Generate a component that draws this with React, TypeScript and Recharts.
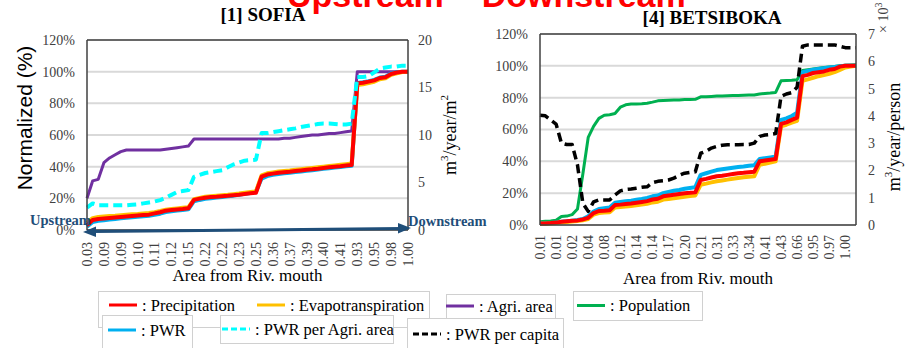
import React from 'react';
import { LineChart, Line, XAxis, YAxis, CartesianGrid, ReferenceLine } from 'recharts';

const SERIF = '"Liberation Serif", "Times New Roman", serif';
const SANS = '"Liberation Sans", Arial, sans-serif';
const NAVY = '#1f4e79';
const FRAME = '#404040';

// x-axis labels (area from river mouth), one for every third point
const sofiaLabels = ['0.03', '0.09', '0.09', '0.10', '0.11', '0.12', '0.15', '0.22', '0.22', '0.23', '0.25', '0.36', '0.37', '0.39', '0.40', '0.41', '0.93', '0.95', '0.98', '1.00'];
const betsiLabels = ['0.01', '0.01', '0.02', '0.04', '0.08', '0.12', '0.14', '0.14', '0.17', '0.20', '0.21', '0.31', '0.33', '0.34', '0.41', '0.43', '0.66', '0.95', '0.97', '1.00'];

// [1] SOFIA - normalized cumulative values (%)
const sofiaPrecip = [3, 6.3, 7, 7.3, 7.6, 7.9, 8.2, 8.5, 8.8, 9.1, 9.4, 9.7, 10.5, 11.2, 12.2, 12.6, 13, 13.3, 13.7, 19, 19.8, 20.4, 20.8, 21, 21.3, 21.6, 22, 22.3, 22.8, 23.2, 23.5, 33.7, 35, 35.6, 36.2, 36.5, 36.8, 37.2, 37.6, 38, 38.3, 38.7, 39.2, 39.6, 40, 40.3, 40.7, 41, 92.6, 93, 93.7, 94.5, 96, 96.5, 98.5, 99.5, 100, 100];
const sofiaEvap = [4.5, 7.5, 8.2, 8.5, 8.8, 9, 9.3, 9.6, 9.9, 10.1, 10.4, 10.7, 11.3, 12, 12.8, 13.2, 13.6, 14, 14.3, 19.5, 20.3, 21, 21.3, 21.6, 21.9, 22.2, 22.6, 23, 23.6, 24, 24.3, 34.5, 35.8, 36.4, 37, 37.3, 37.6, 38, 38.4, 38.8, 39.2, 39.6, 40, 40.4, 40.8, 41.2, 41.6, 42, 91.5, 92, 92.8, 93.6, 95.2, 95.8, 98, 99, 99.8, 100];
const sofiaPwr = [2, 5, 5.8, 6.2, 6.6, 7, 7.4, 7.8, 8.1, 8.4, 8.7, 9, 9.6, 10.3, 11.3, 11.8, 12.3, 12.7, 13.1, 18.2, 19, 19.7, 20.1, 20.5, 20.9, 21.3, 21.7, 22.2, 22.8, 23.4, 24.2, 32.5, 34, 34.8, 35.4, 35.8, 36.2, 36.6, 37, 37.4, 37.8, 38.2, 38.6, 39, 39.4, 39.8, 40.2, 40.5, 92.8, 93.3, 94, 94.8, 96.3, 96.8, 98.8, 99.6, 100, 100];
const sofiaAgri = [20, 31, 32, 42.5, 45.5, 47.5, 49.5, 50.5, 50.5, 50.5, 50.5, 50.5, 50.5, 50.5, 51, 51.5, 52, 52.5, 53, 57.5, 57.5, 57.5, 57.5, 57.5, 57.5, 57.5, 57.5, 57.5, 57.5, 57.5, 57.5, 57.5, 57.5, 57.5, 57.5, 58, 58, 58.5, 59, 59.5, 60, 60, 60.5, 61, 61, 61.5, 62, 62.5, 100, 100, 100, 100, 100, 100, 100, 100, 100, 100];
// PWR per agri. area (m3/year/m2)
const sofiaPwrPerAgri = [2.35, 2.8, 2.6, 2.6, 2.6, 2.6, 2.6, 2.6, 2.65, 2.7, 2.8, 2.9, 3.0, 3.15, 3.4, 3.7, 4.0, 4.1, 4.2, 5.6, 5.8, 6.0, 6.1, 6.2, 6.3, 6.6, 6.9, 7.1, 7.3, 7.35, 7.4, 10.2, 10.2, 10.3, 10.4, 10.5, 10.6, 10.7, 10.85, 10.95, 11.05, 11.15, 11.2, 11.2, 11.15, 11.1, 11.1, 11.2, 16.1, 16.1, 16.2, 16.6, 17.0, 17.1, 17.2, 17.2, 17.3, 17.3];

// [4] BETSIBOKA - normalized cumulative values (%)
const betsiPrecip = [1, 1, 1.2, 1.5, 2, 2.3, 2.6, 2.9, 3.5, 4.5, 7.5, 8.8, 9, 9.3, 12.5, 12.8, 13.2, 13.5, 14, 14.5, 15, 16, 16.5, 18, 18.5, 19, 19.5, 20, 20.2, 20.5, 28.3, 29, 29.8, 30.6, 31, 31.5, 32, 32.5, 32.8, 33.2, 33.5, 40, 40.5, 41, 41.5, 63.5, 64.5, 66, 67.5, 93.5, 94.3, 95.5, 96, 96.5, 97.5, 98, 99.5, 100, 100, 100];
const betsiEvap = [0.8, 0.8, 1, 1.2, 1.6, 1.9, 2.2, 2.5, 3, 3.8, 6.5, 7.5, 7.8, 8, 11, 11.3, 11.6, 12, 12.4, 12.8, 13.3, 14.2, 14.6, 16, 16.4, 16.8, 17.3, 17.8, 18.2, 18.6, 25.3, 26, 26.8, 27.5, 28, 28.5, 29, 29.5, 30, 30.3, 30.6, 37.9, 38.5, 39.2, 40, 62, 63, 64.3, 65.5, 90.5, 91.5, 92.5, 93.5, 94.2, 95, 96, 97.5, 99, 99.5, 100];
const betsiPwr = [1, 1, 1.2, 1.5, 2, 2.3, 2.7, 3.1, 3.8, 5.5, 8.5, 10, 10.5, 11, 14, 14.5, 15, 15.3, 15.8, 16.3, 17, 18, 18.5, 20, 20.8, 21.5, 22, 22.8, 23.3, 23.8, 31.5, 32.5, 33.5, 34.5, 35, 35.5, 36, 36.5, 36.8, 37.2, 37.5, 41.5, 42, 42.5, 43, 66, 67, 68.5, 70.5, 96, 96.8, 97.5, 98, 98.5, 99, 99.3, 99.8, 100, 100, 100];
const betsiPopulation = [2, 2.3, 2.5, 3, 5.3, 5.6, 6.5, 10, 32, 55, 62, 67, 69, 69.3, 70, 74, 75.5, 76, 76, 76.2, 76.5, 77.2, 78, 78.2, 78.4, 78.5, 78.6, 78.8, 78.9, 79, 80.5, 80.6, 80.8, 81, 81.1, 81.2, 81.3, 81.4, 81.5, 81.6, 81.7, 82.3, 82.6, 82.9, 83.3, 90.6, 90.8, 91, 91.3, 97, 97.5, 98, 98.5, 99, 99.3, 99.6, 100, 100.3, 100.5, 100.7];
// PWR per capita (x10^3 m3/year/person)
const betsiPwrPerCapita = [4.02, 4.0, 3.85, 3.7, 3.0, 2.95, 2.95, 2.2, 0.8, 0.5, 0.85, 0.92, 0.92, 0.92, 1.1, 1.25, 1.3, 1.32, 1.35, 1.38, 1.4, 1.55, 1.6, 1.62, 1.65, 1.72, 1.82, 1.9, 1.93, 1.95, 2.63, 2.7, 2.82, 2.88, 2.92, 2.94, 2.94, 2.94, 2.95, 2.95, 3.0, 3.25, 3.3, 3.32, 3.35, 4.71, 4.8, 4.85, 5.05, 6.55, 6.6, 6.6, 6.6, 6.6, 6.6, 6.6, 6.55, 6.5, 6.5, 6.5];

const pctTicks = [0, 20, 40, 60, 80, 100, 120];
const sofiaRightTicks = [0, 5, 10, 15, 20];
const betsiRightTicks = [0, 1, 2, 3, 4, 5, 6, 7];

const sofiaData = sofiaPrecip.map((v, i) => ({
  i,
  precip: v,
  evap: sofiaEvap[i],
  pwr: sofiaPwr[i],
  agri: sofiaAgri[i],
  pwrAgri: sofiaPwrPerAgri[i],
}));

const betsiData = betsiPrecip.map((v, i) => ({
  i,
  precip: v,
  evap: betsiEvap[i],
  pwr: betsiPwr[i],
  pop: betsiPopulation[i],
  perCapita: betsiPwrPerCapita[i],
}));

const tickStyle = { fontFamily: SERIF, fontSize: 14, fill: FRAME };
const frameLine = { stroke: FRAME, strokeWidth: 1.5 };

// rotated category label, reading bottom to top
const RotatedTick = (props: any) => {
  const { x, y, payload, labels, gap } = props;
  const label = labels[Math.round(Number(payload.value) / 3)];
  return (
    <text
      transform={`translate(${x},${y}) rotate(-90)`}
      x={-gap}
      y={0}
      dy="0.35em"
      textAnchor="end"
      fontFamily={SERIF}
      fontSize={14}
      fill={FRAME}
    >
      {label}
    </text>
  );
};

const line = (yAxisId: string, dataKey: string, stroke: string, width: number, dash?: string) => (
  <Line
    yAxisId={yAxisId}
    type="linear"
    dataKey={dataKey}
    stroke={stroke}
    strokeWidth={width}
    strokeDasharray={dash}
    strokeLinejoin="round"
    dot={false}
    activeDot={false}
    isAnimationActive={false}
  />
);

const SofiaChart = () => (
  <LineChart width={500} height={290} data={sofiaData} margin={{ top: 40, right: 30, bottom: 0, left: 0 }}>
    <CartesianGrid yAxisId="l" vertical={false} stroke="#d9d9d9" strokeWidth={2} />
    <XAxis
      dataKey="i"
      interval={2}
      height={60}
      tickSize={0}
      tickMargin={0}
      tickLine={false}
      axisLine={frameLine}
      tick={<RotatedTick labels={sofiaLabels} gap={12} />}
    />
    <YAxis
      yAxisId="l"
      width={87}
      domain={[0, 120]}
      ticks={pctTicks}
      tickFormatter={(v) => `${v}%`}
      tickSize={0}
      tickMargin={12}
      tickLine={false}
      axisLine={frameLine}
      tick={tickStyle}
    />
    <YAxis
      yAxisId="r"
      orientation="right"
      width={62}
      domain={[0, 20]}
      ticks={sofiaRightTicks}
      tickSize={0}
      tickMargin={10}
      tickLine={false}
      axisLine={frameLine}
      tick={tickStyle}
    />
    <ReferenceLine yAxisId="l" y={120} stroke={FRAME} strokeWidth={1.5} />
    {line('l', 'agri', '#7030a0', 3)}
    {line('l', 'pwr', '#00b0f0', 4)}
    {line('l', 'evap', '#ffc000', 4)}
    {line('l', 'precip', '#ff0000', 4)}
    {line('r', 'pwrAgri', '#00ffff', 4, '9 5')}
  </LineChart>
);

const BetsiChart = () => (
  <LineChart width={462} height={290} data={betsiData} margin={{ top: 34, right: 0, bottom: 0, left: 0 }}>
    <CartesianGrid yAxisId="l" vertical={false} stroke="#d9d9d9" strokeWidth={2} />
    <XAxis
      dataKey="i"
      interval={2}
      height={65}
      tickSize={0}
      tickMargin={0}
      tickLine={false}
      axisLine={frameLine}
      tick={<RotatedTick labels={betsiLabels} gap={10} />}
    />
    <YAxis
      yAxisId="l"
      width={90}
      domain={[0, 120]}
      ticks={pctTicks}
      tickFormatter={(v) => `${v}%`}
      tickSize={0}
      tickMargin={12}
      tickLine={false}
      axisLine={frameLine}
      tick={tickStyle}
    />
    <YAxis
      yAxisId="r"
      orientation="right"
      width={56}
      domain={[0, 7]}
      ticks={betsiRightTicks}
      tickSize={0}
      tickMargin={12}
      tickLine={false}
      axisLine={frameLine}
      tick={tickStyle}
    />
    <ReferenceLine yAxisId="l" y={120} stroke={FRAME} strokeWidth={1.5} />
    {line('l', 'pop', '#00b050', 3)}
    {line('l', 'pwr', '#00b0f0', 4)}
    {line('l', 'evap', '#ffc000', 4)}
    {line('l', 'precip', '#ff0000', 4)}
    {line('r', 'perCapita', '#000000', 3.5, '9 5')}
  </LineChart>
);

const LegendItem = ({ x, y, color, dash, label }: { x: number; y: number; color: string; dash?: string; label: string }) => (
  <g>
    <line x1={x} y1={y} x2={x + 28} y2={y} stroke={color} strokeWidth={3} strokeDasharray={dash} />
    <text x={x + 33} y={y} dominantBaseline="central" fontFamily={SERIF} fontSize={16.5} fill="#000">
      {label}
    </text>
  </g>
);

const Box = ({ x, y, w, h }: { x: number; y: number; w: number; h: number }) => (
  <rect x={x + 0.5} y={y + 0.5} width={w} height={h} fill="#fff" stroke="#d0d0d0" strokeWidth={1} />
);

const Overlay = () => (
  <svg width={912} height={348} style={{ position: 'absolute', left: 0, top: 0, pointerEvents: 'none' }}>
    <text x={287} y={7} fontFamily={SANS} fontWeight="bold" fontSize={34} fill="#ff0000">
      Upstream – Downstream
    </text>

    <text x={263} y={21} textAnchor="middle" fontFamily={SERIF} fontWeight="bold" fontSize={19} fill="#000">
      [1] SOFIA
    </text>
    <text x={712} y={24} textAnchor="middle" fontFamily={SERIF} fontWeight="bold" fontSize={19} fill="#000">
      [4] BETSIBOKA
    </text>

    <text transform="translate(24,118) rotate(-90)" textAnchor="middle" dominantBaseline="central" fontFamily={SANS} fontSize={21} fill="#000">
      Normalized (%)
    </text>
    <text transform="translate(450,135) rotate(-90)" textAnchor="middle" dominantBaseline="central" fontFamily={SERIF} fontSize={18} fill="#000">
      m<tspan dy={-6} fontSize={11}>3</tspan>
      <tspan dy={6}>/year/m</tspan>
      <tspan dy={-6} fontSize={11}>2</tspan>
    </text>
    <text transform="translate(894,137) rotate(-90)" textAnchor="middle" dominantBaseline="central" fontFamily={SERIF} fontSize={18} fill="#000">
      m<tspan dy={-6} fontSize={11}>3</tspan>
      <tspan dy={6}>/year/person</tspan>
    </text>
    <text transform="translate(883,33) rotate(-90)" dominantBaseline="central" fontFamily={SERIF} fontSize={14} fill={FRAME}>
      × 10<tspan dy={-5} fontSize={10}>3</tspan>
    </text>

    <text x={247.5} y={281} textAnchor="middle" fontFamily={SERIF} fontSize={17} fill="#000">
      Area from Riv. mouth
    </text>
    <text x={698} y={284} textAnchor="middle" fontFamily={SERIF} fontSize={17} fill="#000">
      Area from Riv. mouth
    </text>

    <text x={30} y={225} fontFamily={SERIF} fontWeight="bold" fontSize={14.5} fill={NAVY}>
      Upstream
    </text>
    <text x={408} y={226} fontFamily={SERIF} fontWeight="bold" fontSize={14.5} fill={NAVY}>
      Downstream
    </text>
    <line x1={92} y1={231.6} x2={402} y2={228.4} stroke={NAVY} strokeWidth={3} />
    <polygon points="83,232 96,226.5 96,237" fill={NAVY} />
    <polygon points="411,228 398,223 398,233.5" fill={NAVY} />

    <Box x={98} y={291} w={331} h={36} />
    <LegendItem x={109} y={305} color="#ff0000" label=": Precipitation" />
    <LegendItem x={257} y={305} color="#ffc000" label=": Evapotranspiration" />
    <Box x={446} y={294} w={109} h={24} />
    <LegendItem x={446} y={306} color="#7030a0" label=": Agri. area" />
    <Box x={573} y={291} w={129} h={29} />
    <LegendItem x={577} y={305.5} color="#00b050" label=": Population" />
    <Box x={102} y={315} w={90} h={33} />
    <LegendItem x={108} y={330} color="#00b0f0" label=": PWR" />
    <Box x={220} y={315} w={173} h={28} />
    <LegendItem x={222} y={329} color="#00ffff" dash="6 3" label=": PWR per Agri. area" />
    <Box x={407} y={318} w={156} h={32} />
    <LegendItem x={413} y={334} color="#000000" dash="6 3" label=": PWR per capita" />
  </svg>
);

export default function App() {
  return (
    <div style={{ position: 'absolute', left: 0, top: 0, width: 912, height: 348, overflow: 'hidden', background: '#fff' }}>
      <div style={{ position: 'absolute', left: 0, top: 0 }}>
        <SofiaChart />
      </div>
      <div style={{ position: 'absolute', left: 450, top: 0 }}>
        <BetsiChart />
      </div>
      <Overlay />
    </div>
  );
}
